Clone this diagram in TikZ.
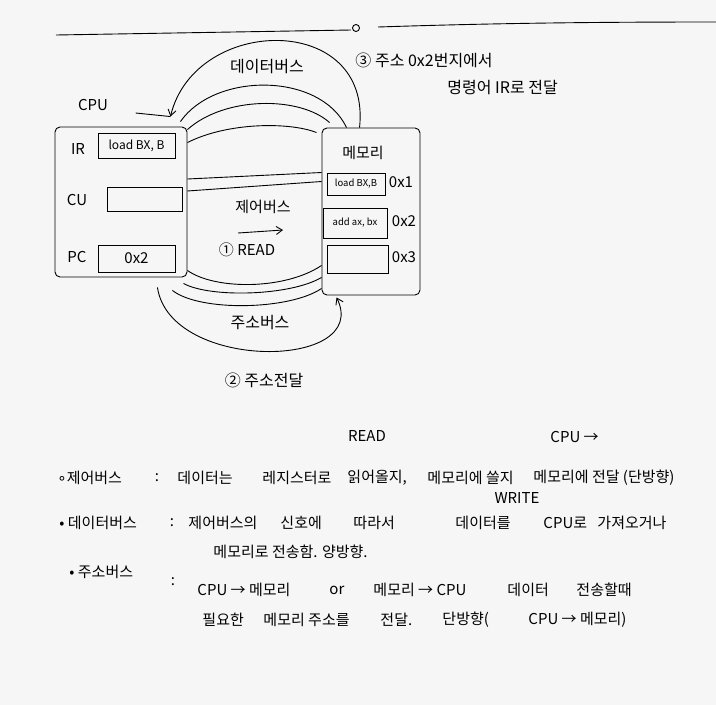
\documentclass[tikz,border=0pt]{standalone}
\usepackage{fontspec}
\setmainfont{Noto Sans CJK KR}
\newfontfamily\symfont{DejaVu Sans}
\usetikzlibrary{arrows.meta}
\definecolor{paper}{HTML}{F6F6F6}
\begin{document}
\begin{tikzpicture}[x=1pt,y=-1pt,line width=0.9pt,font=\fontsize{15}{17}\selectfont,
  part/.style={draw,rounded corners=5pt,inner sep=0pt},
  reg/.style={draw,inner sep=0pt,font=\fontsize{12}{14}\selectfont},
  cell/.style={draw,inner sep=0pt,font=\fontsize{9.5}{11}\selectfont},
  note/.style={anchor=west,inner sep=0pt},
  tip/.style={-{Straight Barb[length=6pt,width=8pt]}}]
\useasboundingbox[fill=paper] (0,0) rectangle (716,705);

% top rule
\draw (56,35) -- (351,30);
\draw (356,28) circle (3.5);
\draw (378,27) .. controls (500,23) and (600,22) .. (716,22);

% CPU
\node[part,minimum width=132pt,minimum height=150pt] (cpu) at (121,202) {};
\node (cpulbl) at (93,105) {CPU};
\node (irlbl) at (78,149) {IR};
\node[reg,minimum width=77pt,minimum height=25pt] (ir) at (136.5,146) {load BX, B};
\node (culbl) at (77,200) {CU};
\node[reg,minimum width=75pt,minimum height=24pt] (cu) at (144.5,199.5) {};
\node (pclbl) at (77,257) {PC};
\node[reg,minimum width=77pt,minimum height=27pt,font=\fontsize{15}{17}\selectfont] (pc) at (136.5,258.5) {0x2};

% memory
\node[part,minimum width=98pt,minimum height=167pt] (mem) at (371,211.5) {};
\node (memlbl) at (363,153) {메모리};
\node[cell,minimum width=58pt,minimum height=22pt] (m1) at (356,184) {load BX,B};
\node (adr1) at (401,182) {0x1};
\node[cell,minimum width=64pt,minimum height=30pt] (m2) at (355,223) {add ax, bx};
\node (adr2) at (404,221) {0x2};
\node[cell,minimum width=61pt,minimum height=28pt] (m3) at (357.5,259) {};
\node (adr3) at (404,257) {0x3};

% bus labels
\node[font=\fontsize{16}{18}\selectfont] (dbus) at (267,67) {데이터버스};
\node (cbus) at (263,207) {제어버스};
\node (rdlbl) at (247,250) {① READ};
\node[font=\fontsize{16}{18}\selectfont] (abus) at (260,323) {주소버스};
\node[font=\fontsize{16}{18}\selectfont] (sendlbl) at (264,380) {② 주소전달};
\node[note,font=\fontsize{16}{18}\selectfont] (step3a) at (355,60) {③ 주소 0x2번지에서};
\node[note,font=\fontsize{16}{18}\selectfont] (step3b) at (447,88) {명령어 IR로 전달};

% data bus
\draw[tip] ([xshift=38pt]mem.north west) .. controls (372,12) and (195,15) .. ([xshift=-17pt,yshift=10pt]cpu.north east) coordinate (dtip);
\draw ([xshift=24pt,yshift=-8pt]cpulbl.east) -- (dtip);
\draw ([xshift=-7pt,yshift=5pt]cpu.north east) .. controls (215,72) and (320,72) .. ([xshift=25pt]mem.north west);
\draw ([yshift=-3pt]cpu.north east) .. controls (225,96) and (300,96) .. ([xshift=8pt,yshift=5pt]mem.north west);
\draw ([yshift=-16pt]cpu.north east) .. controls (228,122) and (290,122) .. ([xshift=-5pt,yshift=-5pt]mem.north west);

% control bus
\draw ([yshift=23pt]cpu.east) -- ([yshift=39pt]mem.west);
\draw ([yshift=11pt]cpu.east) -- ([yshift=30pt]mem.west);
\coordinate (rdA) at (238,233);
\coordinate (rdB) at (283,230);
\draw[tip] (rdA) -- (rdB);

% address bus
\draw ([yshift=7pt]cpu.south east) .. controls (215,290) and (285,290) .. ([yshift=30pt]mem.south west);
\draw ([xshift=-4pt,yshift=-6pt]cpu.south east) .. controls (210,298) and (290,296) .. ([yshift=18pt]mem.south west);
\draw ([xshift=-15pt,yshift=-13pt]cpu.south east) .. controls (200,312) and (290,310) .. ([yshift=7pt]mem.south west);
\draw[tip] ([xshift=-30pt,yshift=-10pt]cpu.south east) .. controls (170,372) and (372,370) .. ([xshift=15pt,yshift=-2pt]mem.south west);

% notes
\node[note] (c1) at (57,478) {{\symfont ∘}제어버스};
\node (c2) at (157,478) {:};
\node[note] (c3) at (177,478) {데이터는};
\node[note] (c4) at (262,478) {레지스터로};
\node[note] (c5) at (347,478) {읽어올지,};
\node[note] (c6) at (427,478) {메모리에 쓸지};
\node[note] (c7) at (533,478) {메모리에 전달 (단방향)};
\node (c8) at (367,436) {READ};
\node (c9) at (517,498) {WRITE};
\node[note] (c10) at (550,437) {CPU →};

\node[note] (d1) at (59,523) {• 데이터버스};
\node (d2) at (172,523) {:};
\node[note] (d3) at (188,523) {제어버스의};
\node[note] (d4) at (280,523) {신호에};
\node[note] (d5) at (353,523) {따라서};
\node[note] (d6) at (455,523) {데이터를};
\node[note] (d7) at (543,523) {CPU로};
\node[note] (d8) at (597,523) {가져오거나};
\node[note] (d9) at (213,552) {메모리로 전송함. 양방향.};

\node[note] (e1) at (69,572) {• 주소버스};
\node (e2) at (173,582) {:};
\node[note] (e3) at (197,590) {CPU → 메모리};
\node[note] (e4) at (329,590) {or};
\node[note] (e5) at (373,590) {메모리 → CPU};
\node[note] (e6) at (507,590) {데이터};
\node[note] (e7) at (576,590) {전송할때};
\node[note] (e8) at (202,620) {필요한};
\node[note] (e9) at (263,620) {메모리 주소를};
\node[note] (e10) at (380,620) {전달.};
\node[note] (e11) at (442,620) {단방향(};
\node[note] (e12) at (528,620) {CPU → 메모리)};
\end{tikzpicture}
\end{document}
